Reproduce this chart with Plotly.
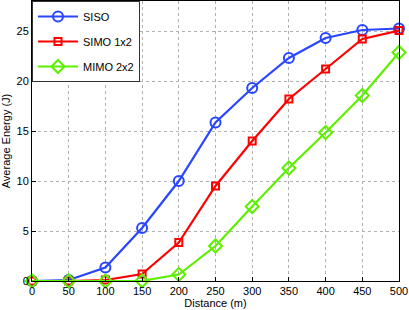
import plotly.graph_objects as go

distance = [0, 50, 100, 150, 200, 250, 300, 350, 400, 450, 500]
siso = [0.0, 0.1, 1.35, 5.3, 10.0, 15.85, 19.3, 22.3, 24.3, 25.1, 25.25]
simo = [0.0, 0.0, 0.1, 0.7, 3.85, 9.5, 14.0, 18.2, 21.2, 24.2, 25.05]
mimo = [0.0, 0.0, 0.0, 0.02, 0.65, 3.5, 7.45, 11.3, 14.85, 18.55, 22.85]
x_ticks = [0, 50, 100, 150, 200, 250, 300, 350, 400, 450, 500]
y_ticks = [0, 5, 10, 15, 20, 25]

series = [
    ("SISO", siso, "#2846ff", "circle-open", 10),
    ("SIMO 1x2", simo, "#ff0000", "square-open", 7),
    ("MIMO 2x2", mimo, "#5cf000", "diamond-open", 10),
]

fig = go.Figure()
for i, (name, vals, color, sym, sz) in enumerate(series):
    fig.add_trace(go.Scatter(
        x=distance, y=vals, name=name, mode="lines+markers",
        legendgroup=f"g{i}",
        line=dict(color=color, width=2.2),
        marker=dict(symbol=sym, size=sz, color=color, line=dict(color=color, width=2)),
        cliponaxis=False,
    ))

axis_common = dict(
    showline=True, linecolor="black", linewidth=1, mirror=True,
    ticks="inside", ticklen=4, tickcolor="black",
    showgrid=True, gridcolor="#b0b0b0", griddash="dot", gridwidth=1,
    zeroline=False,
    tickfont=dict(family="Liberation Sans, Arial, sans-serif", size=11, color="black"),
)

fig.update_layout(
    width=409, height=310,
    margin=dict(l=32, r=10, t=1, b=29),
    paper_bgcolor="white", plot_bgcolor="white",
    font=dict(family="Liberation Sans, Arial, sans-serif", size=11, color="black"),
    xaxis=dict(range=[0, 500], tickvals=x_ticks,
               title=dict(text="Distance (m)", standoff=2, font=dict(size=11)),
               **axis_common),
    yaxis=dict(range=[0, 28], tickvals=y_ticks,
               title=dict(text="Average Energy (J)", standoff=4, font=dict(size=11)),
               **axis_common),
    legend=dict(
        x=0, y=1, xanchor="left", yanchor="top",
        bgcolor="white", bordercolor="#333333", borderwidth=1,
        font=dict(size=11), itemwidth=40, tracegroupgap=6,
        traceorder="grouped",
    ),
    showlegend=True,
)

fig.write_html(
    "out.html",
    config={"displayModeBar": False},
    post_script="document.body.style.margin='0';document.body.style.overflow='hidden';",
)
